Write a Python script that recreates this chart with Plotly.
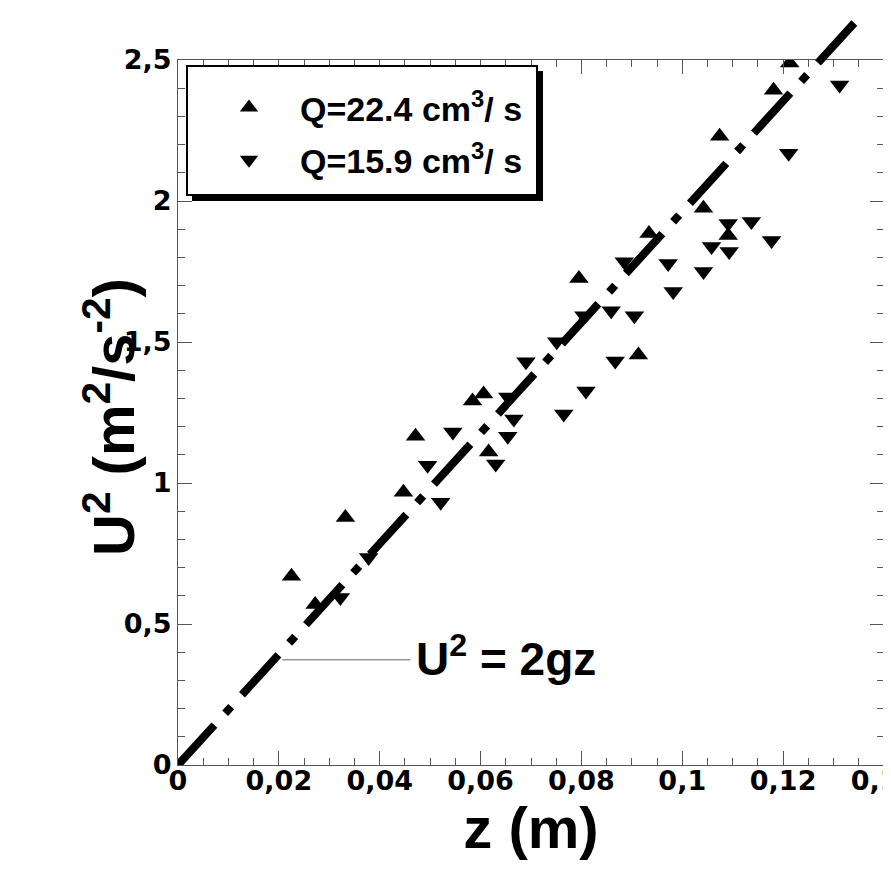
import plotly.graph_objects as go

# Q = 22.4 cm3/s  (upward triangles)
z_q224 = [0.0225, 0.0332, 0.0272, 0.0447, 0.0471, 0.0584, 0.0606, 0.0616,
          0.0795, 0.0913, 0.0934, 0.1042, 0.1074, 0.1091, 0.1181, 0.1213]
u2_q224 = [0.669, 0.878, 0.569, 0.967, 1.166, 1.291, 1.316, 1.110,
           1.725, 1.454, 1.885, 1.974, 2.230, 1.878, 2.393, 2.489]

# Q = 15.9 cm3/s  (downward triangles)
z_q159 = [0.0322, 0.0378, 0.0495, 0.0521, 0.0545, 0.0654, 0.0666, 0.0654,
          0.0630, 0.0690, 0.0751, 0.0765, 0.0809, 0.0805, 0.0859, 0.0867,
          0.0885, 0.0905, 0.0972, 0.0982, 0.1042, 0.1058, 0.1091, 0.1093,
          0.1137, 0.1177, 0.1211, 0.1312]
u2_q159 = [0.594, 0.736, 1.063, 0.932, 1.181, 1.305, 1.227, 1.166,
           1.067, 1.430, 1.501, 1.245, 1.326, 1.593, 1.611, 1.433,
           1.785, 1.593, 1.778, 1.679, 1.750, 1.839, 1.920, 1.821,
           1.927, 1.860, 2.169, 2.411]

# theory line U^2 = 2 g z
g = 9.81
z_line = [0.0, 0.1345]
u2_line = [2 * g * z for z in z_line]

x_ticks = [0, 0.02, 0.04, 0.06, 0.08, 0.1, 0.12, 0.14]
y_ticks = [0, 0.5, 1, 1.5, 2, 2.5]

# the page body has an 8px margin: figure coords = page coords - 8
OFF = 8
W, H = 891 - OFF, 872 - OFF
m_l, m_r, m_t, m_b = 170, 7, 12, 107
plot_w = W - m_l - m_r
plot_h = H - m_t - m_b
frame_top = 60 - OFF
dom_top = (H - m_b - frame_top) / plot_h
y_max = 2.5

FONT = "Liberation Sans"
TICKFONT = "DejaVu Sans"


def px(p):   # page x pixel -> paper x
    return (p - OFF - m_l) / plot_w


def py(p):   # page y pixel -> paper y
    return 1 - (p - OFF - m_t) / plot_h


fig = go.Figure()

fig.add_trace(go.Scatter(
    x=z_line, y=u2_line, mode="lines", xaxis="x", yaxis="y2",
    line=dict(color="black", width=8, dash="54px,16px,9px,16px"),
    showlegend=False, hoverinfo="skip"))

fig.add_trace(go.Scatter(
    x=z_q224, y=u2_q224, mode="markers", name="Q=22.4 cm<sup>3</sup>/ s",
    legendgroup="a",
    marker=dict(symbol="triangle-up", size=17, color="black")))
fig.add_trace(go.Scatter(
    x=z_q159, y=u2_q159, mode="markers", name="Q=15.9 cm<sup>3</sup>/ s",
    legendgroup="b",
    marker=dict(symbol="triangle-down", size=17, color="black")))

axis_common = dict(
    showgrid=False, zeroline=False, showline=True, linecolor="#555555",
    linewidth=1.2, mirror="ticks", ticks="inside", tickcolor="#555555",
    tickwidth=1.3, ticklen=14, automargin=False,
    ticklabeloverflow="allow",
    tickfont=dict(family=TICKFONT, size=27, color="black", weight="bold"),
)

fig.update_layout(
    width=W, height=H,
    margin=dict(l=m_l, r=m_r, t=m_t, b=m_b, autoexpand=False),
    paper_bgcolor="white", plot_bgcolor="rgba(0,0,0,0)",
    separators=", ",
    font=dict(family=FONT, color="black"),
    xaxis=dict(
        **axis_common, domain=[0, 1], anchor="y", range=[0, 0.14],
        tickvals=x_ticks, tickformat="~g", ticklabelstandoff=-9,
        minor=dict(ticks="inside", dtick=0.005, ticklen=7,
                   tickcolor="#555555", tickwidth=1.2),
        title=dict(text="z (m)", standoff=8,
                   font=dict(family=FONT, size=58, weight="bold")),
    ),
    yaxis=dict(
        **axis_common, domain=[0, dom_top], anchor="x", range=[0, y_max],
        tickvals=y_ticks, tickformat="~g",
        minor=dict(ticks="inside", dtick=0.1, ticklen=7,
                   tickcolor="#555555", tickwidth=1.2),
    ),
    yaxis2=dict(domain=[0, 1], anchor="x", range=[0, y_max / dom_top],
                visible=False, showgrid=False, zeroline=False),
    legend=dict(
        x=px(189), y=py(79),
        xanchor="left", yanchor="top",
        bgcolor="rgba(0,0,0,0)", borderwidth=0,
        font=dict(family=FONT, size=34, color="black", weight="bold"),
        itemwidth=92, indentation=9, tracegroupgap=5,
    ),
)

# legend frame with drop shadow
fig.add_shape(type="rect", xref="paper", yref="paper",
              x0=px(192), x1=px(543), y0=py(201), y1=py(71),
              fillcolor="black", line=dict(width=0), layer="above")
fig.add_shape(type="rect", xref="paper", yref="paper",
              x0=px(187), x1=px(537), y0=py(195), y1=py(66),
              fillcolor="white", line=dict(color="black", width=2),
              layer="above")

# y axis title (overlaps the tick-label column as in the original)
fig.add_annotation(x=px(109), y=py(417), xref="paper", yref="paper",
                   text="U<sup>2</sup> (m<sup>2</sup>/s<sup>-2</sup>)",
                   textangle=-90, showarrow=False,
                   xanchor="center", yanchor="middle",
                   font=dict(family=FONT, size=58, color="black", weight="bold"))

# annotation for theory line
fig.add_shape(type="line", xref="x", yref="y",
              x0=0.0207, x1=0.0461, y0=0.373, y1=0.373,
              line=dict(color="#666666", width=1))
fig.add_annotation(x=0.0468, y=0.385, xref="x", yref="y",
                   text="U<sup>2</sup> = 2gz", showarrow=False,
                   xanchor="left", yanchor="middle",
                   font=dict(family=FONT, size=46, color="black", weight="bold"))

fig.write_html("out.html")
